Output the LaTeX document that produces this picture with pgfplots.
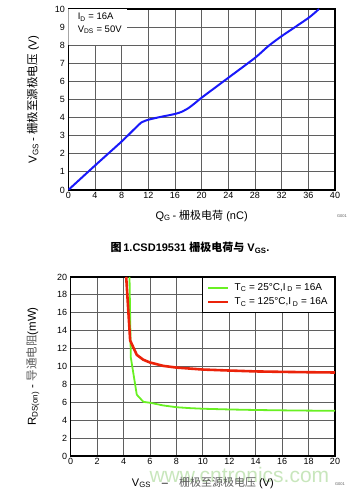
\documentclass[border=0pt]{standalone}
\usepackage{pgfplots}
\pgfplotsset{compat=1.18}
\usepackage{fontspec}
\setmainfont{Liberation Sans}
\newfontfamily\cjk{Noto Sans CJK SC}
\definecolor{cblue}{RGB}{25,25,250}
\definecolor{cgreen}{RGB}{105,240,35}
\definecolor{cred}{RGB}{235,35,10}
\definecolor{gridgray}{RGB}{95,95,95}
\definecolor{lblgray}{RGB}{90,90,90}
\definecolor{wm}{RGB}{200,230,188}
\begin{document}
\begin{tikzpicture}
\useasboundingbox (0pt,0pt) rectangle (356pt,492pt);
% watermark
\node[anchor=west, text=wm, font=\fontsize{21}{24}\selectfont] at (146pt,17pt) {www.cntronics.com};
% ---------------- top chart ----------------
\begin{axis}[
  at={(68.3pt,302pt)}, anchor=south west, scale only axis,
  width=266.7pt, height=181pt,
  xmin=0, xmax=40, ymin=0, ymax=10,
  xtick={0,4,...,40}, ytick={0,1,...,10},
  grid=major, major grid style={gridgray, line width=0.8pt},
  axis line style={black, line width=1.2pt},
  tick style={draw=none},
  ticklabel style={font=\fontsize{9}{10}\selectfont},
  /pgf/number format/assume math mode=true,
  xticklabel style={yshift=1pt},
  xlabel={Q\textsubscript{G}\,- {\cjk 栅极电荷} (nC)},
  xlabel style={font=\fontsize{11}{12}\selectfont, yshift=-4pt},
  ylabel={V\textsubscript{GS}\,- {\cjk 栅极至源极电压} (V)},
  ylabel style={font=\fontsize{11.5}{12}\selectfont, yshift=9pt},
  clip=true,
]
\fill[white] (axis cs:0,8.0) rectangle (axis cs:8.8,10);
\node[anchor=west, font=\fontsize{9.5}{10}\selectfont] at (axis cs:0.9,9.55) {I\textsubscript{D} = 16A};
\node[anchor=west, font=\fontsize{9.5}{10}\selectfont] at (axis cs:0.9,8.85) {V\textsubscript{DS} = 50V};
\addplot[cblue, line width=2pt, smooth, tension=0.4] coordinates {
(0,0) (4,1.35) (8,2.68) (10,3.4) (11,3.74) (12,3.88) (13,3.97) (14,4.05) (16,4.2) (17,4.32) (18,4.52) (19,4.8) (20,5.1) (24,6.2) (28,7.3) (30,7.95) (32,8.5) (36,9.5) (37.6,10)
};
\end{axis}
\node[font=\fontsize{4}{5}\selectfont, text=lblgray] at (342pt,276pt) {G001};
% caption
\node[font=\bfseries\fontsize{11}{13}\selectfont] at (190pt,244pt) {{\cjk\bfseries 图}\,1.CSD19531 {\cjk\bfseries 栅极电荷与} V\textsubscript{GS}.};
% ---------------- bottom chart ----------------
\begin{axis}[
  at={(70.7pt,36pt)}, anchor=south west, scale only axis,
  width=264.3pt, height=179pt,
  xmin=0, xmax=20, ymin=0, ymax=20,
  xtick={0,2,...,20}, ytick={0,2,...,20},
  grid=major, major grid style={gridgray, line width=0.8pt},
  axis line style={black, line width=1.2pt},
  tick style={draw=none},
  ticklabel style={font=\fontsize{9}{10}\selectfont},
  /pgf/number format/assume math mode=true,
  xticklabel style={yshift=1pt},
  xlabel={V\textsubscript{GS}\quad–\quad{\color{lblgray}\cjk 栅极至源极电压} (V)},
  xlabel style={font=\fontsize{11}{12}\selectfont, yshift=-5pt},
  ylabel={R\textsubscript{DS(on)} - {\color{lblgray}\cjk 导通电阻}(mW)},
  ylabel style={font=\fontsize{11.5}{12}\selectfont, yshift=11pt},
  legend style={at={(1,1)}, anchor=north east, draw=black, line width=0.8pt,
    font=\fontsize{10}{11}\selectfont, inner xsep=5pt, inner ysep=4pt,
    row sep=2pt, cells={anchor=west},
    /tikz/every odd column/.append style={column sep=3pt}},
  legend image code/.code={\draw[#1] (0pt,0pt) -- (20pt,0pt);},
  clip=true,
]
\addplot[cgreen, line width=1.8pt] coordinates {
(4.45,20) (4.55,11.0) (5.0,6.85) (5.5,6.05) (6,5.95) (7,5.65) (8,5.45) (9,5.35) (10,5.28) (12,5.2) (14,5.14) (16,5.1) (18,5.07) (20,5.05)
};
\addlegendentry{T\textsubscript{C} = 25°C,I\,\textsubscript{D} = 16A}
\addplot[cred, line width=2.6pt] coordinates {
(4.2,20) (4.5,12.9) (5,11.3) (5.5,10.75) (6,10.45) (7,10.07) (8,9.88) (10,9.66) (12,9.55) (14,9.45) (16,9.4) (18,9.36) (20,9.33)
};
\addlegendentry{T\textsubscript{C} = 125°C,I\,\textsubscript{D} = 16A}
\end{axis}
\node[font=\fontsize{4}{5}\selectfont, text=lblgray] at (340pt,8pt) {G001};
\end{tikzpicture}
\end{document}
